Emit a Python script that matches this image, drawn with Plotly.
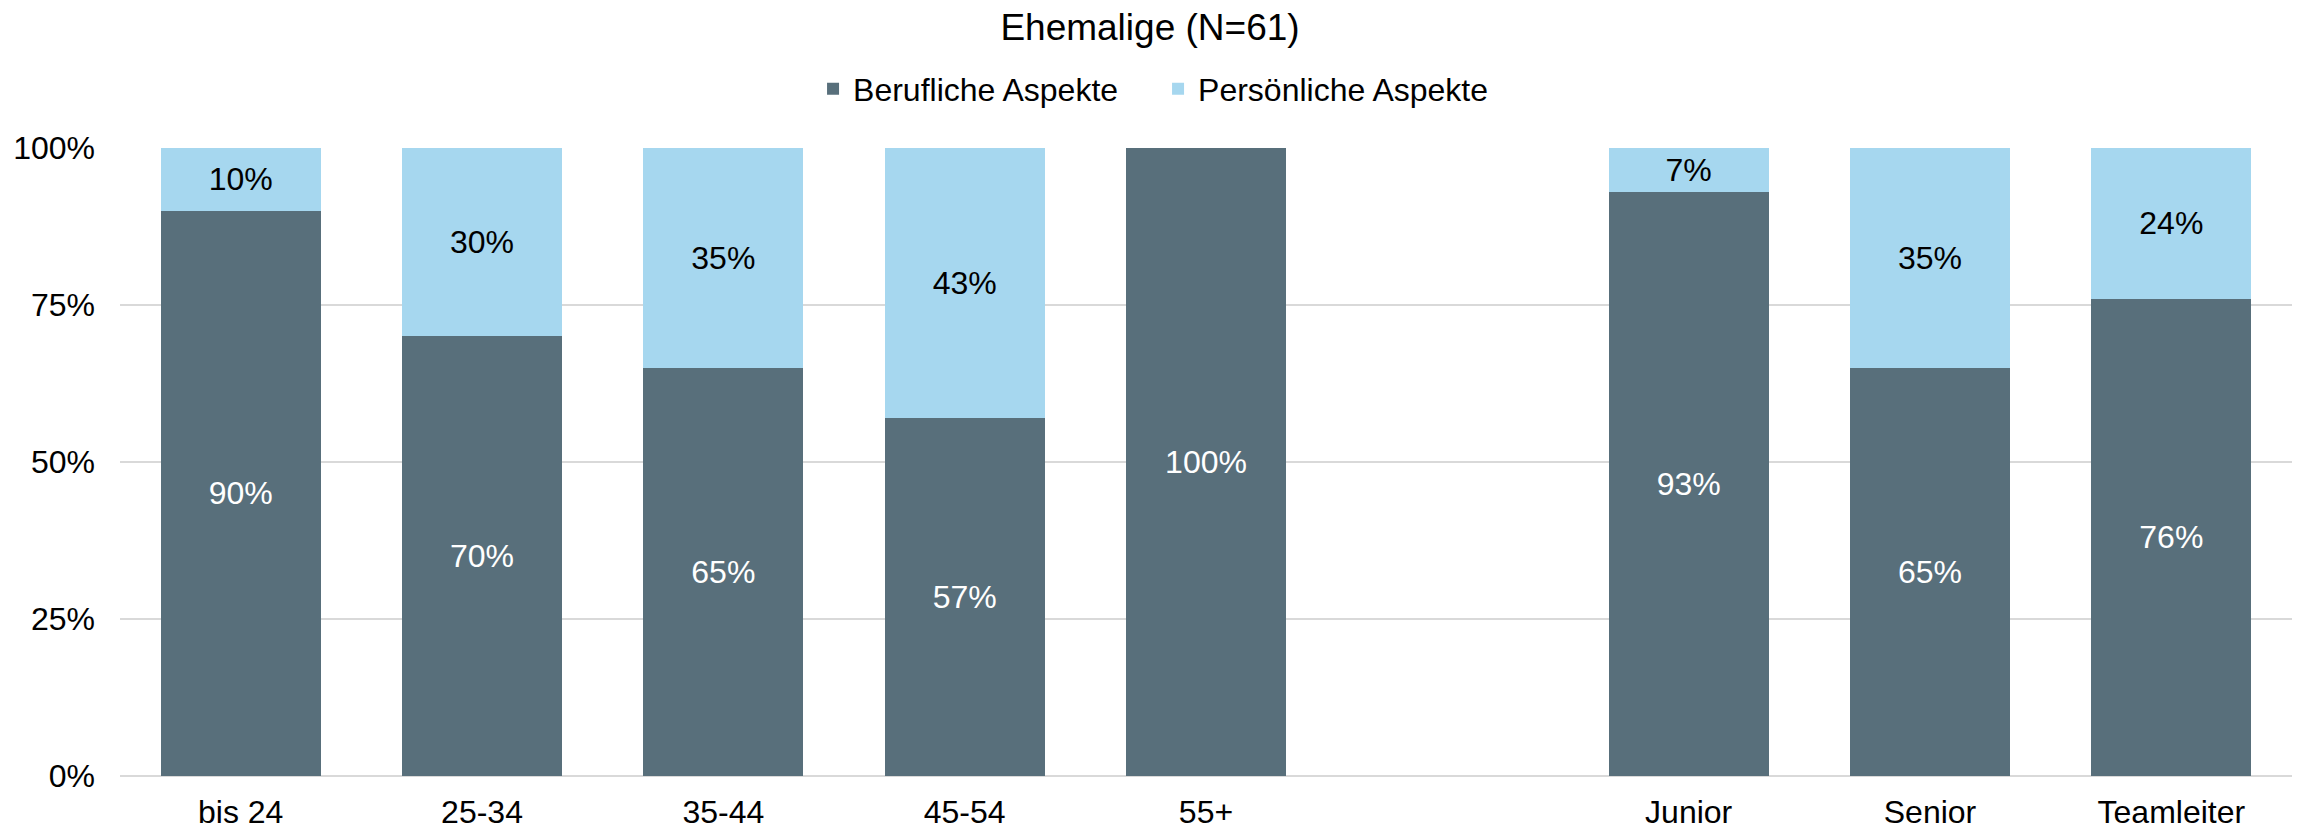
import plotly.graph_objects as go

categories = ["bis 24", "25-34", "35-44", "45-54", "55+", " ", "Junior", "Senior", "Teamleiter"]
berufliche = [90, 70, 65, 57, 100, None, 93, 65, 76]
persoenliche = [10, 30, 35, 43, 0, None, 7, 35, 24]
series_names = ["Berufliche Aspekte", "Persönliche Aspekte"]
title_text = "Ehemalige (N=61)"
y_ticks = [0, 25, 50, 75, 100]

DARK = "#586f7b"
LIGHT = "#a6d7ef"
FONT = "Liberation Sans, Arial, sans-serif"


def labels(vals):
    return [f"{v}%" if v else "" for v in vals]


fig = go.Figure()
fig.add_trace(go.Bar(
    x=categories, y=berufliche, name=series_names[0],
    marker=dict(color=DARK, line=dict(width=0)),
    text=labels(berufliche), textposition="inside", insidetextanchor="middle",
    textangle=0, constraintext="none",
    textfont=dict(color="white", size=32, family=FONT),
))
fig.add_trace(go.Bar(
    x=categories, y=persoenliche, name=series_names[1],
    marker=dict(color=LIGHT, line=dict(width=0)),
    text=labels(persoenliche), textposition="inside", insidetextanchor="middle",
    textangle=0, constraintext="none",
    textfont=dict(color="black", size=32, family=FONT),
))

fig.update_layout(
    width=2300, height=829,
    barmode="stack", bargap=0.337,
    plot_bgcolor="white", paper_bgcolor="white",
    font=dict(family=FONT, size=32, color="black"),
    margin=dict(l=120, r=8, t=148, b=53, autoexpand=False),
    title=dict(text=title_text, x=0.5, xref="container", xanchor="center",
               y=1 - 27 / 829, yref="container", yanchor="middle",
               font=dict(size=37, family=FONT, color="black")),
    legend=dict(orientation="h", x=0.5035, xref="container", xanchor="center",
                y=1 - 89 / 829, yref="container", yanchor="middle",
                font=dict(size=32, family=FONT, color="black"),
                itemwidth=30, entrywidth=300, entrywidthmode="pixels",
                traceorder="normal", bgcolor="rgba(0,0,0,0)"),
    showlegend=True,
)
fig.update_xaxes(type="category", categoryorder="array", categoryarray=categories,
                 showgrid=False, showline=False, ticks="", ticklabelstandoff=14,
                 automargin=False,
                 tickfont=dict(size=32, family=FONT, color="black"))
fig.update_yaxes(range=[0, 100], tickvals=y_ticks, ticktext=[f"{v}%" for v in y_ticks],
                 showgrid=True, gridcolor="#d9d9d9", gridwidth=2,
                 zeroline=True, zerolinecolor="#d9d9d9", zerolinewidth=2,
                 showline=False, ticks="", ticklabelstandoff=24, automargin=False,
                 tickfont=dict(size=32, family=FONT, color="black"))

fig.write_html(
    "out.html",
    config={"displayModeBar": False},
    post_script="document.body.style.margin='0';document.body.style.overflow='hidden';",
)
